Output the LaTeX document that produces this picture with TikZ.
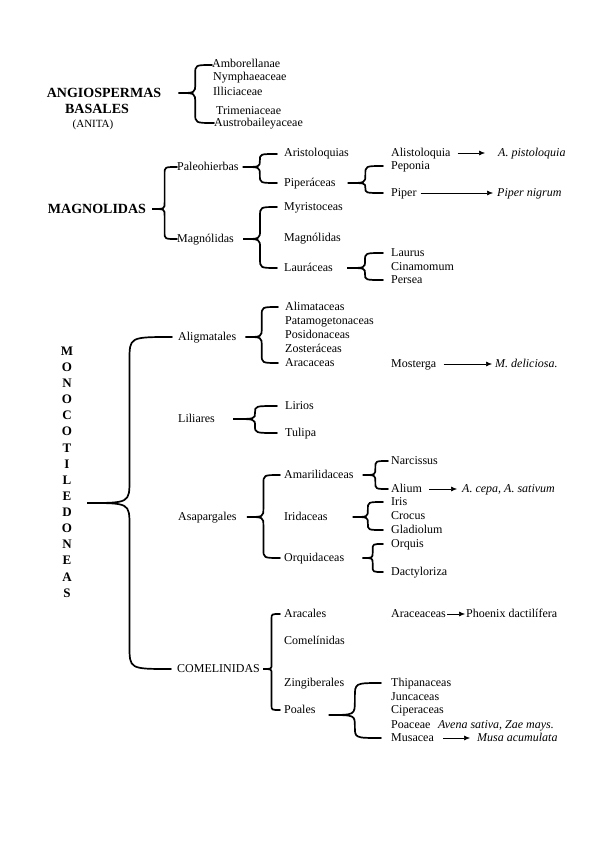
\documentclass[tikz,border=0pt]{standalone}
\usepackage{fontspec}
\setmainfont{Liberation Serif}
\usepackage{tikz}
\usetikzlibrary{calc,arrows.meta}

% curly brace from a tip point to the first and last child
\newcommand{\clade}[4][7pt]{%
  \draw[brc] let \p1=(#2), \p2=([xshift=-#1]#3.west), \p3=([xshift=-#1]#4.west),
    \n1={((\x1)+(\x2))/2}, \n2={min(0.55*((\x2)-(\x1))/2,((\y2)-(\y1))/2)},
    \n3={min(0.55*((\x3)-(\x1))/2,((\y1)-(\y3))/2)} in
    (\p2) .. controls (\n1,\y2) .. (\n1,\y2-\n2) -- (\n1,\y1+\n2)
    .. controls (\n1,\y1) .. (\p1) .. controls (\n1,\y1) .. (\n1,\y1-\n3)
    -- (\n1,\y3+\n3) .. controls (\n1,\y3) .. (\p3);}

\begin{document}
\begin{tikzpicture}[x=1pt,y=-1pt,
  every node/.style={inner sep=0pt,font=\fontsize{12}{13}\selectfont},
  tx/.style={anchor=west,text height=8.5pt,text depth=2.5pt},
  it/.style={tx,font=\fontsize{12}{13}\selectfont\itshape},
  hd/.style={font=\fontsize{14}{15}\selectfont\bfseries},
  brc/.style={line width=1.7pt,line cap=round},
  arr/.style={-{Latex[length=6pt,width=5pt]},line width=0.6pt,shorten <=7pt,shorten >=4pt}]
\useasboundingbox (0,0) rectangle (599,848);

% basales
\node[hd] (ang) at (104,93) {ANGIOSPERMAS};
\node[hd] (bas) at (97,109) {BASALES};
\node[font=\fontsize{11}{12}\selectfont] (ani) at (93,125) {(ANITA)};
\node[tx] (amb) at (212,65) {Amborellanae}; \node[tx] (nym) at (213,78) {Nymphaeaceae};
\node[tx] (ill) at (213,93) {Illiciaceae}; \node[tx] (tri) at (216,111) {Trimeniaceae};
\node[tx] (aus) at (214,123) {Austrobaileyaceae};
\clade[0pt]{[xshift=17pt]ang.east}{amb}{aus}

% magnolidas
\node[hd] (mag) at (97,209) {MAGNOLIDAS};
\node[tx] (pal) at (177,167) {Paleohierbas};
\node[tx] (mgn) at (177,239) {Magnólidas};
\clade[0pt]{[xshift=6pt]mag.east}{pal}{mgn}
\node[tx] (ari) at (284,154) {Aristoloquias}; \node[tx] (pip) at (284,183) {Piperáceas};
\clade{[xshift=4pt]pal.east}{ari}{pip}
\node[tx] (myr) at (284,207) {Myristoceas}; \node[tx] (mg2) at (284,238) {Magnólidas};
\node[tx] (lau) at (284,268) {Lauráceas};
\clade{[xshift=9pt]mgn.east}{myr}{lau}

\node[tx] (als) at (391,153) {Alistoloquia}; \node[it] (apis) at (498,153) {A. pistoloquia};
\draw[arr,shorten >=13pt] (als) -- (apis);
\node[tx] (pep) at (391,166) {Peponia};
\node[tx] (ppr) at (391,193) {Piper}; \node[it] (pni) at (497,193) {Piper nigrum};
\draw[arr,shorten <=4pt] (ppr) -- (pni);
\clade[8pt]{[xshift=12pt]pip.east}{pep}{ppr}
\node[tx] (lrs) at (391,253) {Laurus}; \node[tx] (cin) at (391,267) {Cinamomum};
\node[tx] (per) at (391,280) {Persea};
\clade[8pt]{[xshift=14pt]lau.east}{lrs}{per}

% monocotiledoneas
\node[font=\fontsize{13}{16.13}\selectfont\bfseries,align=center] (mono) at (67,472)
  {M\\O\\N\\O\\C\\O\\T\\I\\L\\E\\D\\O\\N\\E\\A\\S};
\coordinate (mtip) at (87,503);
\node[tx] (alg) at (178,337) {Aligmatales}; \node[tx] (lil) at (178,419) {Liliares};
\node[tx] (asp) at (178,517) {Asapargales}; \node[tx] (com) at (177,669) {COMELINIDAS};
\clade[6pt]{mtip}{alg}{com}

\node[tx] (alm) at (285,307) {Alimataceas}; \node[tx] (pat) at (285,321) {Patamogetonaceas};
\node[tx] (pos) at (285,335) {Posidonaceas}; \node[tx] (zos) at (285,349) {Zosteráceas};
\node[tx] (arc) at (285,363) {Aracaceas};
\clade{[xshift=9pt]alg.east}{alm}{arc}
\node[tx] (mos) at (391,364) {Mosterga}; \node[it] (mdel) at (495,364) {M. deliciosa.};
\draw[arr,shorten >=3pt] (mos) -- (mdel);

\node[tx] (lir) at (285,406) {Lirios}; \node[tx] (tul) at (285,433) {Tulipa};
\clade[8pt]{[xshift=18pt]lil.east}{lir}{tul}

% asapargales
\node[tx] (ama) at (284,475) {Amarilidaceas}; \node[tx] (iri) at (284,517) {Iridaceas};
\node[tx] (orq) at (284,558) {Orquidaceas};
\clade[4pt]{[xshift=10pt]asp.east}{ama}{orq}
\node[tx] (nar) at (391,461) {Narcissus}; \node[tx] (alu) at (391,489) {Alium};
\node[it] (cep) at (462,489) {A. cepa, A. sativum};
\draw[arr,shorten >=5pt] (alu) -- (cep);
\clade[3pt]{[xshift=9pt]ama.east}{nar}{alu}
\node[tx] (irs) at (391,502) {Iris}; \node[tx] (cro) at (391,516) {Crocus};
\node[tx] (gla) at (391,530) {Gladiolum};
\clade[8pt]{[xshift=25pt]iri.east}{irs}{gla}
\node[tx] (orc) at (391,544) {Orquis}; \node[tx] (dac) at (391,572) {Dactyloriza};
\clade[8pt]{[xshift=18pt]orq.east}{orc}{dac}

% comelinidas
\node[tx] (arl) at (284,614) {Aracales}; \node[tx] (cmn) at (284,641) {Comelínidas};
\node[tx] (zin) at (284,683) {Zingiberales}; \node[tx] (poa) at (284,710) {Poales};
\clade[4pt]{[xshift=3pt]com.east}{arl}{poa}
\node[tx] (arac) at (391,614) {Araceaceas}; \node[tx] (pho) at (466,614) {Phoenix dactilífera};
\draw[arr,shorten <=1pt,shorten >=1pt] (arac) -- (pho);

\node[tx] (thi) at (391,683) {Thipanaceas}; \node[tx] (jun) at (391,697) {Juncaceas};
\node[tx] (cip) at (391,710) {Ciperaceas}; \node[tx] (poc) at (391,725) {Poaceae};
\node[it] (ave) at (438,725) {Avena sativa, Zae mays.};
\node[tx] (mus) at (391,738) {Musacea}; \node[it] (mac) at (477,738) {Musa acumulata};
\draw[arr,shorten <=9pt,shorten >=7pt] (mus) -- (mac);
\clade[10pt]{[xshift=13pt,yshift=-5pt]poa.east}{thi}{mus}
\end{tikzpicture}
\end{document}
